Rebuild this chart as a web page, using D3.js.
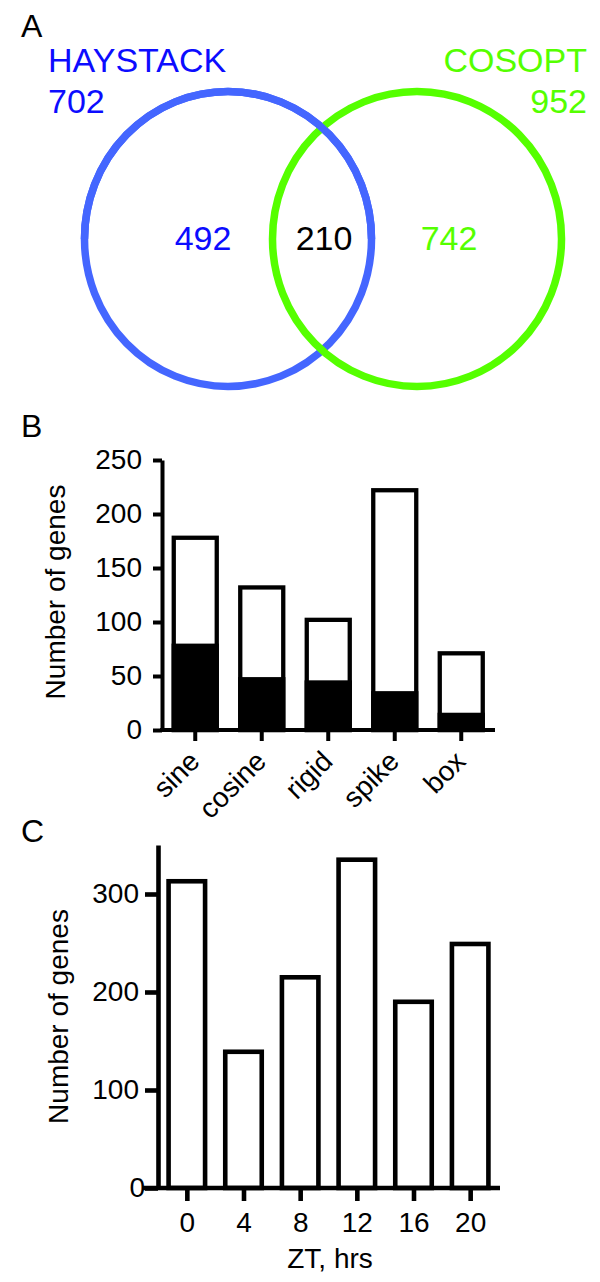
<!DOCTYPE html>
<html>
<head>
<meta charset="utf-8">
<script src="https://cdn.jsdelivr.net/npm/d3@7"></script>
<style>
  body { margin: 0; background: #fff; }
  svg { display: block; font-family: "Liberation Sans", Arial, sans-serif; }
</style>
</head>
<body>
<div id="chart"></div>
<script>
// ---- data ----
const vennNames = ['HAYSTACK', 'COSOPT'];
const vennTotals = [702, 952];
const vennRegions = [492, 210, 742]; // only HAYSTACK, both, only COSOPT

const shapes = ['sine', 'cosine', 'rigid', 'spike', 'box'];
const shapeTotal = [178, 132, 102, 222, 71];
const shapeBlack = [78, 47, 44, 34, 14];
const shapeTicks = [0, 50, 100, 150, 200, 250];

const ztHours = ['0', '4', '8', '12', '16', '20'];
const ztCounts = [313, 139, 215, 335, 190, 249];
const ztTicks = [0, 100, 200, 300];

const W = 600, H = 1282;
const blueStroke = '#4466ff', blueText = '#0c0cff', green = '#55ff00';

const svg = d3.select('#chart').append('svg')
  .attr('width', W).attr('height', H);

svg.append('rect').attr('width', W).attr('height', H).attr('fill', '#fff');

// panel letters
svg.selectAll('text.panel')
  .data([['A', 37], ['B', 437], ['C', 842]])
  .join('text')
  .attr('class', 'panel')
  .attr('x', 21).attr('y', d => d[1])
  .attr('font-size', 32)
  .text(d => d[0]);

// ****************** Panel A: Venn ***************************
const venn = svg.append('g');
const ringW = 7.5;
const ell = [
  { cx: 228, cy: 239, rx: 143.5, ry: 147.5, color: blueStroke },
  { cx: 417, cy: 239, rx: 144.5, ry: 147.5, color: green }
];

svg.append('clipPath').attr('id', 'topHalf')
  .append('rect').attr('x', 0).attr('y', 0).attr('width', W).attr('height', 239);

venn.selectAll('ellipse.ring')
  .data(ell)
  .join('ellipse')
  .attr('class', 'ring')
  .attr('cx', d => d.cx).attr('cy', d => d.cy)
  .attr('rx', d => d.rx).attr('ry', d => d.ry)
  .attr('fill', 'none')
  .attr('stroke', d => d.color)
  .attr('stroke-width', ringW);

// blue over green at the top crossing, green over blue at the bottom
venn.append('ellipse')
  .attr('cx', ell[0].cx).attr('cy', ell[0].cy)
  .attr('rx', ell[0].rx).attr('ry', ell[0].ry)
  .attr('fill', 'none')
  .attr('stroke', blueStroke)
  .attr('stroke-width', ringW)
  .attr('clip-path', 'url(#topHalf)');

const setText = [
  { x: 48, anchor: 'start', color: blueText },
  { x: 587, anchor: 'end', color: green }
];
setText.forEach((s, i) => {
  venn.append('text')
    .attr('x', s.x).attr('y', 72)
    .attr('text-anchor', s.anchor)
    .attr('fill', s.color)
    .attr('font-size', 34)
    .text(vennNames[i]);
  venn.append('text')
    .attr('x', s.x).attr('y', 113)
    .attr('text-anchor', s.anchor)
    .attr('fill', s.color)
    .attr('font-size', 34)
    .text(vennTotals[i]);
});

const regionX = [203, 324, 449];
const regionColor = [blueText, '#000', green];
venn.selectAll('text.region')
  .data(vennRegions)
  .join('text')
  .attr('class', 'region')
  .attr('x', (d, i) => regionX[i])
  .attr('y', 250)
  .attr('text-anchor', 'middle')
  .attr('fill', (d, i) => regionColor[i])
  .attr('font-size', 34)
  .text(d => d);

// ****************** Panel B: shapes ***************************
const gB = svg.append('g');
const xB = d3.scalePoint().domain(shapes).range([162, 494.5]).padding(0.5);
const yB = d3.scaleLinear().domain([0, 250]).range([730, 460]);
const barWB = 43;

gB.selectAll('rect.total')
  .data(shapes)
  .join('rect')
  .attr('class', 'total')
  .attr('x', d => xB(d) - barWB / 2)
  .attr('y', (d, i) => yB(shapeTotal[i]))
  .attr('width', barWB)
  .attr('height', (d, i) => yB(0) - yB(shapeTotal[i]))
  .attr('fill', '#fff')
  .attr('stroke', '#000')
  .attr('stroke-width', 4.3);

gB.selectAll('rect.black')
  .data(shapes)
  .join('rect')
  .attr('class', 'black')
  .attr('x', d => xB(d) - barWB / 2)
  .attr('y', (d, i) => yB(shapeBlack[i]))
  .attr('width', barWB)
  .attr('height', (d, i) => yB(0) - yB(shapeBlack[i]))
  .attr('fill', '#000')
  .attr('stroke', '#000')
  .attr('stroke-width', 4.3);

const yAxisB = gB.append('g')
  .attr('transform', 'translate(162,0)')
  .call(d3.axisLeft(yB).tickValues(shapeTicks).tickSize(9).tickSizeOuter(0).tickPadding(11));
yAxisB.select('.domain').attr('stroke-width', 4);
yAxisB.selectAll('.tick line').attr('stroke-width', 4);
yAxisB.selectAll('.tick text').attr('font-size', 28).attr('font-family', null);

// x baseline
gB.append('line')
  .attr('x1', 160).attr('x2', 495)
  .attr('y1', yB(0)).attr('y2', yB(0))
  .attr('stroke', '#000').attr('stroke-width', 4);

gB.selectAll('line.xtick')
  .data(shapes)
  .join('line')
  .attr('class', 'xtick')
  .attr('x1', d => xB(d)).attr('x2', d => xB(d))
  .attr('y1', yB(0)).attr('y2', yB(0) + 11)
  .attr('stroke', '#000').attr('stroke-width', 4);

gB.selectAll('text.xlab')
  .data(shapes)
  .join('text')
  .attr('class', 'xlab')
  .attr('transform', d => `translate(${xB(d) + 6},763) rotate(-45)`)
  .attr('text-anchor', 'end')
  .attr('font-size', 28)
  .text(d => d);

gB.append('text')
  .attr('transform', 'translate(65,592) rotate(-90)')
  .attr('text-anchor', 'middle')
  .attr('font-size', 28)
  .text('Number of genes');

// ****************** Panel C: ZT ***************************
const gC = svg.append('g');
const xC = d3.scalePoint().domain(ztHours).range([158.5, 498.5]).padding(0.5);
const yC = d3.scaleLinear().domain([0, 350]).range([1188, 845]);
const barWC = 36.5;

gC.selectAll('rect.bar')
  .data(ztHours)
  .join('rect')
  .attr('class', 'bar')
  .attr('x', d => xC(d) - barWC / 2)
  .attr('y', (d, i) => yC(ztCounts[i]))
  .attr('width', barWC)
  .attr('height', (d, i) => yC(0) - yC(ztCounts[i]))
  .attr('fill', '#fff')
  .attr('stroke', '#000')
  .attr('stroke-width', 4.6);

const yAxisC = gC.append('g')
  .attr('transform', 'translate(158,0)')
  .call(d3.axisLeft(yC).tickValues(ztTicks).tickSize(13).tickSizeOuter(0).tickPadding(6));
yAxisC.select('.domain').attr('stroke-width', 4.6);
yAxisC.selectAll('.tick line').attr('stroke-width', 4.6);
yAxisC.selectAll('.tick text').attr('font-size', 28).attr('font-family', null)
  .attr('x', d => d === 0 ? -13 : -19);

gC.append('line')
  .attr('x1', 143).attr('x2', 500)
  .attr('y1', yC(0)).attr('y2', yC(0))
  .attr('stroke', '#000').attr('stroke-width', 4.6);

const xAxisC = gC.append('g')
  .attr('transform', `translate(0,${yC(0)})`)
  .call(d3.axisBottom(xC).tickSize(13).tickPadding(24).tickSizeOuter(0));
xAxisC.select('.domain').remove();
xAxisC.selectAll('.tick line').attr('stroke-width', 4.6);
xAxisC.selectAll('.tick text').attr('font-size', 28).attr('font-family', null)
  .attr('dy', null).attr('y', 44);

gC.append('text')
  .attr('x', 330).attr('y', 1268)
  .attr('text-anchor', 'middle')
  .attr('font-size', 28)
  .text('ZT, hrs');

gC.append('text')
  .attr('transform', `translate(68,${(yC(0) + yC(350)) / 2}) rotate(-90)`)
  .attr('text-anchor', 'middle')
  .attr('font-size', 28)
  .text('Number of genes');
</script>
</body>
</html>
